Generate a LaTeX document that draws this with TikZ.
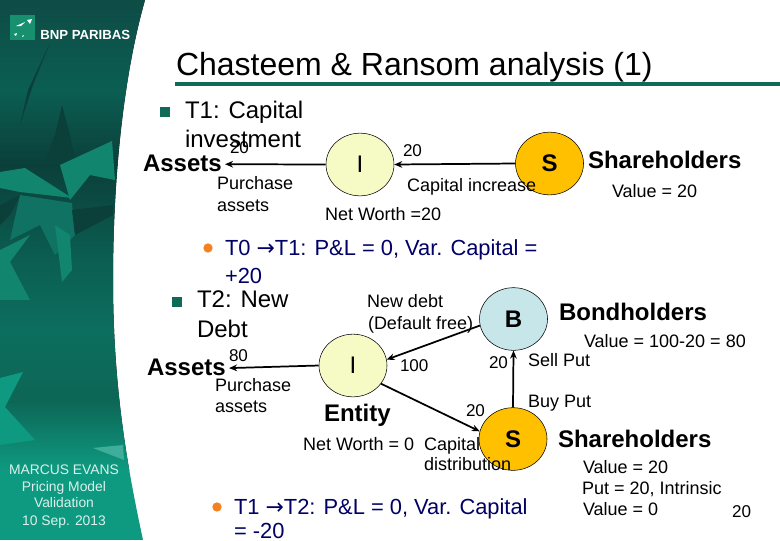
\documentclass[tikz,border=0pt]{standalone}
\usepackage{fontspec}
\setmainfont{Liberation Sans}
\newfontfamily\arrowfont{DejaVu Sans}
\usetikzlibrary{shapes.geometric,arrows.meta}
\definecolor{navytext}{HTML}{000066}
\definecolor{rulegreen}{HTML}{0F6B57}
\definecolor{ifill}{HTML}{F6FBC6}
\definecolor{sfill}{HTML}{FFC000}
\definecolor{bfill}{HTML}{C6E6EA}
\definecolor{orangeb}{HTML}{F58220}
\definecolor{ptop}{HTML}{0E4C46}
\definecolor{pup}{HTML}{0B5E52}
\definecolor{pdark}{HTML}{0B3F3A}
\definecolor{pmid}{HTML}{0C6E5E}
\definecolor{pdeep}{HTML}{0D6656}
\definecolor{plight}{HTML}{0E9A80}
\definecolor{rib}{HTML}{12856F}
\definecolor{ribb}{HTML}{0F7263}
\definecolor{logog}{HTML}{16906F}
\newcommand{\ra}{{\arrowfont\char"2192}}
\tikzset{
 x=0.75pt,y=-0.75pt,
 tx/.style={anchor=base west,inner sep=0pt,outer sep=0pt,font=\fontsize{#1}{#1}\selectfont,align=left},
 tx/.default=13.5,
 lab/.style={tx=13.5},
 bld/.style={tx=18,font=\fontsize{18}{18}\selectfont\bfseries},
 body/.style={tx=18},
 sub/.style={tx=16.4,text=navytext},
 num/.style={tx=12.8},
 circ/.style={ellipse,draw=black,line width=0.4pt,inner sep=0pt,minimum width=51pt,minimum height=47pt,font=\fontsize{18}{18}\selectfont},
 conn/.style={line width=1.3pt,-{Stealth[length=6pt,width=5pt]}},
 side/.style={anchor=base,inner sep=0pt,text=white!85!plight,font=\fontsize{10.4}{10.4}\selectfont},
 sqbullet/.style={fill=rulegreen,draw=none},
 dotbullet/.style={circle,fill=orangeb,draw=none,inner sep=0pt,minimum size=7pt}
}
\begin{document}
\begin{tikzpicture}
\useasboundingbox (0,0) rectangle (780,540);
\fill[white] (0,0) rectangle (780,540);
% left panel
\begin{scope}
\clip (0,0) -- (145,0) .. controls (125,70) and (113,170) .. (113,280) .. controls (113,390) and (128,470) .. (143,540) -- (0,540) -- cycle;
\fill[top color=ptop,bottom color=pup] (0,0) rectangle (150,90);
\fill[top color=pup,bottom color=pdark] (0,90) rectangle (150,165);
\fill[top color=pdark,bottom color=pup] (0,165) rectangle (150,260);
\fill[top color=pup,bottom color=pmid] (0,260) rectangle (150,330);
\fill[top color=pmid,bottom color=pdeep] (0,330) rectangle (150,400);
\fill[top color=pdeep,bottom color=plight] (0,400) rectangle (150,470);
\fill[plight] (0,470) rectangle (150,540);
% texture
\fill[pdark] (50,43) -- (33,85) -- (20,125) -- (28,90) -- cycle;
\fill[pdark] (62,105) -- (55,135) -- (45,160) -- (75,158) -- (70,135) -- cycle;
\fill[rib] (60,165) -- (112,141) -- (115,180) -- (90,175) -- (70,200) -- cycle;
\fill[rib] (0,172) -- (25,168) -- (72,198) -- (20,192) -- (0,188) -- cycle;
\fill[ribb] (20,195) -- (72,203) -- (75,235) -- (55,255) -- (40,225) -- (10,240) -- cycle;
\fill[pdark] (0,205) -- (20,195) -- (10,215) -- (0,225) -- cycle;
\fill[rib] (55,225) -- (70,235) -- (72,270) -- (62,282) -- cycle;
\fill[pdark] (72,210) -- (113,205) -- (113,215) -- (75,235) -- cycle;
\fill[rib] (0,250) -- (30,235) -- (10,262) -- (30,300) -- (0,300) -- cycle;
\fill[plight] (0,378) -- (23,372) -- (5,407) -- (35,440) -- (0,445) -- cycle;
\fill[plight!80!white] (93,448) -- (123,445) -- (124,460) -- cycle;
\end{scope}
% logo
\fill[logog] (10,15) rectangle (35,40);
\fill[white] (16,26) -- (25,22) -- (21,26) -- cycle (27,20) -- (32,19) -- (30,24) -- cycle (14,34) -- (17,33) -- (16,36) -- cycle (22,36) -- (24,35) -- (23,37) -- cycle;
\node[anchor=base west,inner sep=0pt,text=white,font=\fontsize{9.9}{9.9}\selectfont\bfseries] (logo) at (40,39) {BNP PARIBAS};
% title
\node[tx=24] (title) at (176,75) {Chasteem \& Ransom analysis (1)};
\fill[rulegreen] (175,82) rectangle (780,86);
% side text
\node[side] (s1) at (64,474) {MARCUS EVANS};
\node[side] (s2) at (64,491) {Pricing Model};
\node[side] (s3) at (64,507) {Validation};
\node[side] (s4) at (64,525) {10 Sep. 2013};
% bullets
\fill[sqbullet] (160,107) rectangle (170,117);
\fill[sqbullet] (172,297) rectangle (182,307);
\node[dotbullet] (d1) at (208,248) {};
\node[dotbullet] (d2) at (217,507) {};
% body
\node[body] (t1a) at (185,118) {T1: Capital};
\node[body] (t1b) at (185,147) {investment};
\node[sub] (t0a) at (225,255) {T0 \ra T1: P\&L = 0, Var. Capital =};
\node[sub] (t0b) at (225,283) {+20};
\node[body] (t2a) at (197,307) {T2: New};
\node[body] (t2b) at (197,337) {Debt};
\node[sub] (t3a) at (234,514) {T1 \ra T2: P\&L = 0, Var. Capital};
\node[sub] (t3b) at (234,538) {= -20};
% circles
\node[circ,fill=ifill] (i1) at (360,164.5) {I};
\node[circ,fill=sfill,font=\fontsize{18}{18}\selectfont\bfseries] (s1c) at (549.5,163.5) {S};
\node[circ,fill=bfill,font=\fontsize{18}{18}\selectfont\bfseries] (b) at (513.5,319) {B};
\node[circ,fill=ifill] (i2) at (353,365.5) {I};
\node[circ,fill=sfill,font=\fontsize{18}{18}\selectfont\bfseries] (s2c) at (513,439) {S};
% names
\node[bld] (as1) at (143,171) {Assets};
\node[bld] (as2) at (147,375) {Assets};
\node[bld] (sh1) at (588,168) {Shareholders};
\node[bld] (bh) at (559,320) {Bondholders};
\node[bld] (ent) at (324,421) {Entity};
\node[bld] (sh2) at (558,447) {Shareholders};
% connectors
\draw[conn,shorten >=2.5pt] (i1.west) -- ([yshift=-1pt]as1.east);
\draw[conn] (s1c.west) -- (i1.east);
\draw[conn,shorten >=2.5pt] (i2.west) -- ([yshift=-1pt]as2.east);
\draw[conn] (b.191) -- (i2.10);
\draw[conn] (i2.-33) -- (s2c.167);
\draw[conn] (s2c.north) -- (b.south);
% labels
\node[num] (n1) at (230,153) {20};
\node[lab] (p1) at (217,189) {Purchase};
\node[lab] (p2) at (217,211) {assets};
\node[num] (n2) at (403,156) {20};
\node[lab] (ci) at (407,191) {Capital increase};
\node[lab] (nw1) at (325,220) {Net Worth =20};
\node[lab] (v1) at (612,197) {Value = 20};
\node[lab] (nd1) at (367,307) {New debt};
\node[lab] (nd2) at (368,329) {(Default free)};
\node[lab] (v2) at (584,347) {Value = 100-20 = 80};
\node[num] (n3) at (229,361) {80};
\node[lab] (p3) at (215,391) {Purchase};
\node[lab] (p4) at (215,412) {assets};
\node[num] (n4) at (400,371) {100};
\node[num] (n5) at (489,368) {20};
\node[lab] (sp) at (528,366) {Sell Put};
\node[lab] (bp) at (528,407) {Buy Put};
\node[num] (n6) at (466,416) {20};
\node[lab] (nw2) at (303,450) {Net Worth = 0};
\node[lab] (cd1) at (424,450) {Capital};
\node[lab] (cd2) at (424,470) {distribution};
\node[lab] (v3) at (583,473) {Value = 20};
\node[lab] (v4) at (582,494) {Put = 20, Intrinsic};
\node[lab] (v5) at (583,515) {Value = 0};
\node[num] (pg) at (732,517) {20};
\end{tikzpicture}
\end{document}
